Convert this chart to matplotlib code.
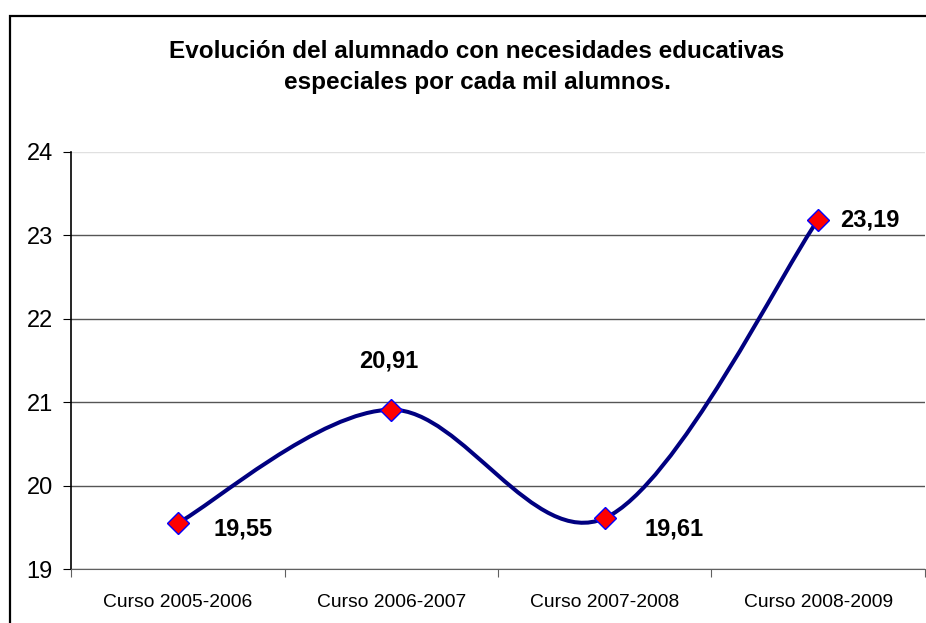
import numpy as np
import matplotlib
matplotlib.use('Agg')
import matplotlib.pyplot as plt
from matplotlib.path import Path
from matplotlib.patches import PathPatch, Rectangle

plt.rcParams['font.family'] = ['Liberation Sans', 'DejaVu Sans']

# data
cursos = ['Curso 2005-2006', 'Curso 2006-2007', 'Curso 2007-2008', 'Curso 2008-2009']
valores = [19.55, 20.91, 19.61, 23.19]
etiquetas = ['19,55', '20,91', '19,61', '23,19']
offsets = [(47, -4), (-2, 35), (50, -8), (37, 0)]
titulo = 'Evolución del alumnado con necesidades educativas\nespeciales por cada mil alumnos.'

fig = plt.figure(figsize=(9.26, 6.23), dpi=100)
ax = fig.add_axes([71 / 926, 54 / 623, 854 / 926, 417 / 623])

x = np.arange(len(valores))
y = np.array(valores)

# smoothed line like Excel (Catmull-Rom -> bezier)
pts = np.column_stack([x, y])
verts = [pts[0]]
codes = [Path.MOVETO]
n = len(pts)
for i in range(n - 1):
    p0 = pts[i - 1] if i > 0 else pts[i]
    p1 = pts[i]
    p2 = pts[i + 1]
    p3 = pts[i + 2] if i + 2 < n else pts[i + 1]
    c1 = p1 + (p2 - p0) / 6
    c2 = p2 - (p3 - p1) / 6
    verts += [c1, c2, p2]
    codes += [Path.CURVE4] * 3
ax.add_patch(PathPatch(Path(verts, codes), facecolor='none', edgecolor='#000080',
                       lw=2.9, capstyle='round', joinstyle='round', zorder=3))
ax.plot(x, y, linestyle='none', marker='D', markersize=11.5, markerfacecolor='red',
        markeredgecolor='blue', markeredgewidth=1.0, zorder=4)

for xi, yi, t, off in zip(x, y, etiquetas, offsets):
    ax.annotate(t, (xi, yi), xytext=off, textcoords='offset points',
                ha='center', va='center', fontsize=17, fontweight='bold')

ax.set_xlim(-0.5, len(valores) - 0.5)
ax.set_ylim(19, 24)
ax.set_yticks(range(19, 25))
ax.tick_params(axis='y', labelsize=17, length=6, direction='out', pad=7)
ax.set_xticks(np.arange(-0.5, len(valores), 1))
ax.set_xticklabels([])
ax.set_xticks(x, minor=True)
ax.set_xticklabels(cursos, minor=True)
ax.tick_params(axis='x', which='major', length=6, color='#606060')
ax.tick_params(axis='x', which='minor', length=0, labelsize=13.9, pad=18)
ax.grid(axis='y', color='#555555', linewidth=1)
ax.get_ygridlines()[-1].set_color('#e0e0e0')
ax.set_axisbelow(True)
for s in ['top', 'right']:
    ax.spines[s].set_visible(False)
ax.spines['left'].set_linewidth(1.2)
ax.spines['bottom'].set_color('#606060')

fig.text(477 / 926, 1 - 67 / 623, titulo, ha='center', va='center', fontsize=17.5,
         fontweight='bold', linespacing=1.4)

# frame around chart area
fig.patches.append(Rectangle((10 / 926, -1), 2, 1 + (623 - 16) / 623, transform=fig.transFigure,
                             fill=False, edgecolor='black', linewidth=1.6, clip_on=False))

fig.savefig('out.png', dpi=100)
